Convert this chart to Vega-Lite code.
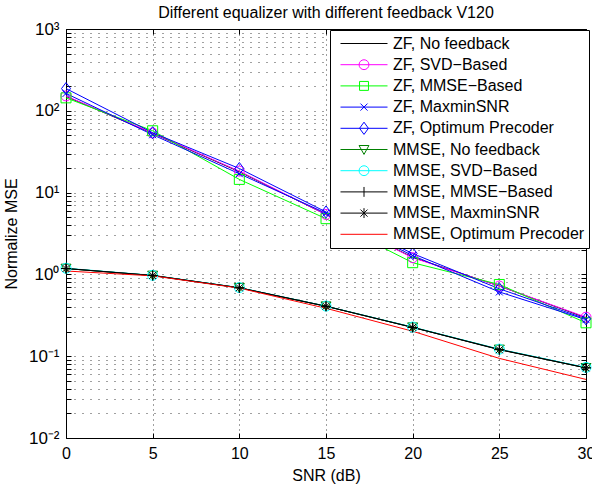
{
  "$schema": "https://vega.github.io/schema/vega-lite/v6.json",
  "width": 520,
  "height": 409,
  "autosize": {"type": "none"},
  "padding": {"left": 66, "top": 29, "right": 6, "bottom": 47},
  "background": "white",
  "title": {"text": "Different equalizer with different feedback V120", "font": "Liberation Sans", "fontSize": 16, "fontWeight": "normal", "color": "#000", "baseline": "alphabetic", "offset": -14, "anchor": "middle", "frame": "group"},
  "config": {
    "view": {"stroke": "#000", "strokeWidth": 1},
    "axis": {"labelFont": "Liberation Sans", "titleFont": "Liberation Sans", "labelColor": "#000", "titleColor": "#000", "titleFontWeight": "normal", "titleFontSize": 16, "domain": false, "tickColor": "#000", "gridColor": "#000", "labelOverlap": false, "labelBound": false, "labelFlush": false}
  },
  "data": {"values": [
    {"s": "ZF, No feedback", "x": 0, "y": 150}, {"s": "ZF, No feedback", "x": 5, "y": 53}, {"s": "ZF, No feedback", "x": 10, "y": 18}, {"s": "ZF, No feedback", "x": 15, "y": 5.4}, {"s": "ZF, No feedback", "x": 20, "y": 1.62}, {"s": "ZF, No feedback", "x": 25, "y": 0.72}, {"s": "ZF, No feedback", "x": 30, "y": 0.295},
    {"s": "ZF, SVD−Based", "x": 0, "y": 152}, {"s": "ZF, SVD−Based", "x": 5, "y": 53.5}, {"s": "ZF, SVD−Based", "x": 10, "y": 18.3}, {"s": "ZF, SVD−Based", "x": 15, "y": 5.4}, {"s": "ZF, SVD−Based", "x": 20, "y": 1.6}, {"s": "ZF, SVD−Based", "x": 25, "y": 0.72}, {"s": "ZF, SVD−Based", "x": 30, "y": 0.30},
    {"s": "ZF, MMSE−Based", "x": 0, "y": 144}, {"s": "ZF, MMSE−Based", "x": 5, "y": 57}, {"s": "ZF, MMSE−Based", "x": 10, "y": 14.5}, {"s": "ZF, MMSE−Based", "x": 15, "y": 4.8}, {"s": "ZF, MMSE−Based", "x": 20, "y": 1.39}, {"s": "ZF, MMSE−Based", "x": 25, "y": 0.753}, {"s": "ZF, MMSE−Based", "x": 30, "y": 0.256},
    {"s": "ZF, MaxminSNR", "x": 0, "y": 163}, {"s": "ZF, MaxminSNR", "x": 5, "y": 51}, {"s": "ZF, MaxminSNR", "x": 10, "y": 17}, {"s": "ZF, MaxminSNR", "x": 15, "y": 5.6}, {"s": "ZF, MaxminSNR", "x": 20, "y": 1.7}, {"s": "ZF, MaxminSNR", "x": 25, "y": 0.61}, {"s": "ZF, MaxminSNR", "x": 30, "y": 0.28},
    {"s": "ZF, Optimum Precoder", "x": 0, "y": 187}, {"s": "ZF, Optimum Precoder", "x": 5, "y": 54}, {"s": "ZF, Optimum Precoder", "x": 10, "y": 19.7}, {"s": "ZF, Optimum Precoder", "x": 15, "y": 5.8}, {"s": "ZF, Optimum Precoder", "x": 20, "y": 1.8}, {"s": "ZF, Optimum Precoder", "x": 25, "y": 0.667}, {"s": "ZF, Optimum Precoder", "x": 30, "y": 0.286},
    {"s": "MMSE, No feedback", "x": 0, "y": 1.18}, {"s": "MMSE, No feedback", "x": 5, "y": 0.97}, {"s": "MMSE, No feedback", "x": 10, "y": 0.686}, {"s": "MMSE, No feedback", "x": 15, "y": 0.408}, {"s": "MMSE, No feedback", "x": 20, "y": 0.226}, {"s": "MMSE, No feedback", "x": 25, "y": 0.121}, {"s": "MMSE, No feedback", "x": 30, "y": 0.072},
    {"s": "MMSE, SVD−Based", "x": 0, "y": 1.19}, {"s": "MMSE, SVD−Based", "x": 5, "y": 0.975}, {"s": "MMSE, SVD−Based", "x": 10, "y": 0.69}, {"s": "MMSE, SVD−Based", "x": 15, "y": 0.41}, {"s": "MMSE, SVD−Based", "x": 20, "y": 0.227}, {"s": "MMSE, SVD−Based", "x": 25, "y": 0.122}, {"s": "MMSE, SVD−Based", "x": 30, "y": 0.073},
    {"s": "MMSE, MMSE−Based", "x": 0, "y": 1.18}, {"s": "MMSE, MMSE−Based", "x": 5, "y": 0.97}, {"s": "MMSE, MMSE−Based", "x": 10, "y": 0.686}, {"s": "MMSE, MMSE−Based", "x": 15, "y": 0.408}, {"s": "MMSE, MMSE−Based", "x": 20, "y": 0.225}, {"s": "MMSE, MMSE−Based", "x": 25, "y": 0.121}, {"s": "MMSE, MMSE−Based", "x": 30, "y": 0.072},
    {"s": "MMSE, MaxminSNR", "x": 0, "y": 1.18}, {"s": "MMSE, MaxminSNR", "x": 5, "y": 0.97}, {"s": "MMSE, MaxminSNR", "x": 10, "y": 0.686}, {"s": "MMSE, MaxminSNR", "x": 15, "y": 0.408}, {"s": "MMSE, MaxminSNR", "x": 20, "y": 0.225}, {"s": "MMSE, MaxminSNR", "x": 25, "y": 0.12}, {"s": "MMSE, MaxminSNR", "x": 30, "y": 0.072},
    {"s": "MMSE, Optimum Precoder", "x": 0, "y": 1.1}, {"s": "MMSE, Optimum Precoder", "x": 5, "y": 0.96}, {"s": "MMSE, Optimum Precoder", "x": 10, "y": 0.68}, {"s": "MMSE, Optimum Precoder", "x": 15, "y": 0.385}, {"s": "MMSE, Optimum Precoder", "x": 20, "y": 0.202}, {"s": "MMSE, Optimum Precoder", "x": 25, "y": 0.094}, {"s": "MMSE, Optimum Precoder", "x": 30, "y": 0.052}
  ]},
  "encoding": {
    "color": {
      "field": "s", "type": "nominal",
      "scale": {
        "domain": ["ZF, No feedback", "ZF, SVD−Based", "ZF, MMSE−Based", "ZF, MaxminSNR", "ZF, Optimum Precoder", "MMSE, No feedback", "MMSE, SVD−Based", "MMSE, MMSE−Based", "MMSE, MaxminSNR", "MMSE, Optimum Precoder"],
        "range": ["#000000", "#ff00ff", "#00ff00", "#0000ff", "#0000ff", "#008000", "#00ffff", "#000000", "#000000", "#ff0000"]
      },
      "legend": {
        "orient": "none", "legendX": 264, "legendY": 1, "title": null,
        "labelFont": "Liberation Sans", "labelFontSize": 16, "labelColor": "#000", "labelLimit": 400,
        "symbolSize": 2209, "symbolStrokeWidth": 1, "symbolOffset": 6, "labelOffset": 5, "symbolFillColor": "transparent",
        "clipHeight": 19, "rowPadding": 2.2, "padding": 4,
        "strokeColor": "#000", "fillColor": "#fff",
        "encode": {"symbols": {"update": {"fill": {"value": "transparent"}, "strokeWidth": {"value": 1}, "shape": {"signal": "['M-1,0L1,0', 'M-1,0L1,0M-0.21,0A0.21,0.21,0,1,0,0.21,0A0.21,0.21,0,1,0,-0.21,0', 'M-1,0L1,0M-0.19,-0.19L0.19,-0.19L0.19,0.19L-0.19,0.19Z', 'M-1,0L1,0M-0.15,-0.15L0.15,0.15M-0.15,0.15L0.15,-0.15', 'M-1,0L1,0M0,-0.26L0.19,0L0,0.26L-0.19,0Z', 'M-1,0L1,0M-0.21,-0.17L0.21,-0.17L0,0.21Z', 'M-1,0L1,0M-0.21,0A0.21,0.21,0,1,0,0.21,0A0.21,0.21,0,1,0,-0.21,0', 'M-1,0L1,0M0,-0.21L0,0.21', 'M-1,0L1,0M0,-0.21L0,0.21M-0.15,-0.15L0.15,0.15M-0.15,0.15L0.15,-0.15', 'M-1,0L1,0'][datum.index]"}}}}
      }
    }
  },
  "layer": [
    {
      "mark": {"type": "line", "strokeWidth": 1},
      "encoding": {
        "x": {"field": "x", "type": "quantitative", "scale": {"domain": [0, 30], "nice": false, "zero": false},
          "axis": {"orient": "bottom", "values": [0, 5, 10, 15, 20, 25, 30], "grid": true, "gridDash": [1, 4], "gridOpacity": 0.75, "tickSize": -5, "labelPadding": 12, "labelFontSize": 16, "title": "SNR (dB)", "titlePadding": 6}},
        "y": {"field": "y", "type": "quantitative", "scale": {"type": "log", "domain": [0.01, 1000], "nice": false},
          "axis": {"orient": "left", "values": [0.01, 0.02, 0.03, 0.04, 0.05, 0.06, 0.07, 0.08, 0.09, 0.1, 0.2, 0.3, 0.4, 0.5, 0.6, 0.7, 0.8, 0.9, 1, 2, 3, 4, 5, 6, 7, 8, 9, 10, 20, 30, 40, 50, 60, 70, 80, 90, 100, 200, 300, 400, 500, 600, 700, 800, 900, 1000],
            "labelExpr": "datum.value == 1000 ? '10³' : datum.value == 100 ? '10²' : datum.value == 10 ? '10¹' : datum.value == 1 ? '10⁰' : datum.value == 0.1 ? '10⁻¹' : datum.value == 0.01 ? '10⁻²' : ''",
            "grid": true, "gridDash": [1, 7], "gridOpacity": 0.75, "tickSize": -5, "labelPadding": 12, "labelFontSize": 17, "title": "Normalize MSE", "titlePadding": 9}}
      }
    },
    {
      "transform": [{"filter": {"field": "s", "oneOf": ["ZF, SVD−Based", "ZF, MMSE−Based", "ZF, MaxminSNR", "ZF, Optimum Precoder", "MMSE, No feedback", "MMSE, SVD−Based", "MMSE, MMSE−Based", "MMSE, MaxminSNR"]}}],
      "mark": {"type": "point", "filled": false, "size": 100, "strokeWidth": 1, "opacity": 1},
      "encoding": {
        "x": {"field": "x", "type": "quantitative", "scale": {"domain": [0, 30], "nice": false, "zero": false},
          "axis": {"orient": "top", "values": [0, 5, 10, 15, 20, 25, 30], "grid": false, "labels": false, "tickSize": -5, "title": null}},
        "y": {"field": "y", "type": "quantitative", "scale": {"type": "log", "domain": [0.01, 1000], "nice": false},
          "axis": {"orient": "right", "values": [0.01, 0.02, 0.03, 0.04, 0.05, 0.06, 0.07, 0.08, 0.09, 0.1, 0.2, 0.3, 0.4, 0.5, 0.6, 0.7, 0.8, 0.9, 1, 2, 3, 4, 5, 6, 7, 8, 9, 10, 20, 30, 40, 50, 60, 70, 80, 90, 100, 200, 300, 400, 500, 600, 700, 800, 900, 1000], "grid": false, "labels": false, "tickSize": -5, "title": null}},
        "shape": {"field": "s", "type": "nominal", "legend": null,
          "scale": {"domain": ["ZF, SVD−Based", "ZF, MMSE−Based", "ZF, MaxminSNR", "ZF, Optimum Precoder", "MMSE, No feedback", "MMSE, SVD−Based", "MMSE, MMSE−Based", "MMSE, MaxminSNR"],
            "range": ["circle", "square", "M-0.7,-0.7L0.7,0.7M-0.7,0.7L0.7,-0.7", "M0,-1.2L0.9,0L0,1.2L-0.9,0Z", "triangle-down", "circle", "M-1,0L1,0M0,-1L0,1", "M-1,0L1,0M0,-1L0,1M-0.7,-0.7L0.7,0.7M-0.7,0.7L0.7,-0.7"]}}
      }
    }
  ],
  "resolve": {"axis": {"x": "independent", "y": "independent"}}
}
